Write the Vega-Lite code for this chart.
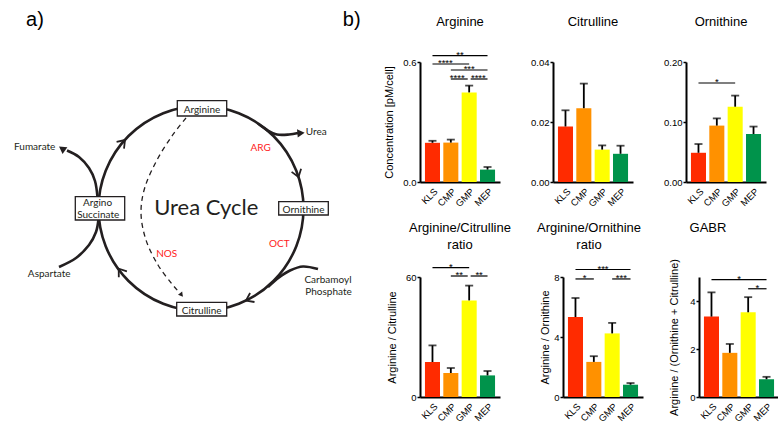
{
  "$schema": "https://vega.github.io/schema/vega-lite/v6.json",
  "padding": 0,
  "background": "white",
  "config": {
    "font": "Liberation Sans",
    "view": {"stroke": null},
    "axis": {"domainColor": "black", "domainWidth": 2, "tickColor": "black", "tickWidth": 1.5, "tickSize": 3, "labelColor": "black", "labelFont": "Liberation Sans", "labelFontSize": 9.5, "titleFont": "Liberation Sans", "titleFontSize": 11, "titleFontWeight": "normal", "titleColor": "black", "grid": false, "labelPadding": 1, "titlePadding": 8},
    "axisX": {"ticks": false, "labelAngle": -45, "labelPadding": 4},
    "title": {"font": "Liberation Sans", "fontSize": 13, "fontWeight": "normal", "color": "black"}
  },
  "datasets": {
    "ring": [{"x": 201, "y": 208.5}],
    "dspacer": [{"x": 10, "y": 0.5}],
    "boxes": [
      {"x": 177.3, "x2": 226.7, "y": 100.7, "y2": 116},
      {"x": 278.7, "x2": 328.3, "y": 201.7, "y2": 215},
      {"x": 176.7, "x2": 226.7, "y": 302.3, "y2": 316},
      {"x": 75.3, "x2": 124.7, "y": 196.7, "y2": 220}
    ],
    "paths": [
      {"kind": "curve", "p": "urea", "i": 0, "x": 258, "y": 123.5},
      {"kind": "curve", "p": "urea", "i": 1, "x": 267, "y": 130},
      {"kind": "curve", "p": "urea", "i": 2, "x": 277, "y": 134.5},
      {"kind": "curve", "p": "urea", "i": 3, "x": 289, "y": 134.5},
      {"kind": "curve", "p": "urea", "i": 4, "x": 298, "y": 133},
      {"kind": "curve", "p": "fum", "i": 0, "x": 97.5, "y": 197},
      {"kind": "curve", "p": "fum", "i": 1, "x": 95, "y": 181},
      {"kind": "curve", "p": "fum", "i": 2, "x": 89, "y": 168},
      {"kind": "curve", "p": "fum", "i": 3, "x": 79, "y": 157},
      {"kind": "curve", "p": "fum", "i": 4, "x": 67, "y": 150.5},
      {"kind": "curve", "p": "asp", "i": 0, "x": 59, "y": 267},
      {"kind": "curve", "p": "asp", "i": 1, "x": 76, "y": 258},
      {"kind": "curve", "p": "asp", "i": 2, "x": 89, "y": 245},
      {"kind": "curve", "p": "asp", "i": 3, "x": 96, "y": 232},
      {"kind": "curve", "p": "asp", "i": 4, "x": 98.5, "y": 219},
      {"kind": "curve", "p": "carb", "i": 0, "x": 318, "y": 269},
      {"kind": "curve", "p": "carb", "i": 1, "x": 303, "y": 266.5},
      {"kind": "curve", "p": "carb", "i": 2, "x": 290, "y": 270.5},
      {"kind": "curve", "p": "carb", "i": 3, "x": 279, "y": 277.5},
      {"kind": "curve", "p": "carb", "i": 4, "x": 268, "y": 287},
      {"kind": "dash", "p": "nos", "i": 0, "x": 186, "y": 118},
      {"kind": "dash", "p": "nos", "i": 1, "x": 172, "y": 136},
      {"kind": "dash", "p": "nos", "i": 2, "x": 157, "y": 160},
      {"kind": "dash", "p": "nos", "i": 3, "x": 145, "y": 187},
      {"kind": "dash", "p": "nos", "i": 4, "x": 141, "y": 213},
      {"kind": "dash", "p": "nos", "i": 5, "x": 146, "y": 240},
      {"kind": "dash", "p": "nos", "i": 6, "x": 158, "y": 265},
      {"kind": "dash", "p": "nos", "i": 7, "x": 172, "y": 284},
      {"kind": "dash", "p": "nos", "i": 8, "x": 180, "y": 293},
      {"kind": "chev", "p": "c1", "i": 0, "x": 124.0, "y": 148.6},
      {"kind": "chev", "p": "c1", "i": 1, "x": 125.0, "y": 140.0},
      {"kind": "chev", "p": "c1", "i": 2, "x": 116.6, "y": 141.9},
      {"kind": "chev", "p": "c2", "i": 0, "x": 301.1, "y": 168.8},
      {"kind": "chev", "p": "c2", "i": 1, "x": 298.5, "y": 177.0},
      {"kind": "chev", "p": "c2", "i": 2, "x": 291.6, "y": 171.9},
      {"kind": "chev", "p": "c3", "i": 0, "x": 254.5, "y": 302.0},
      {"kind": "chev", "p": "c3", "i": 1, "x": 246.0, "y": 300.6},
      {"kind": "chev", "p": "c3", "i": 2, "x": 250.1, "y": 293.0},
      {"kind": "chev", "p": "c4", "i": 0, "x": 126.9, "y": 271.4},
      {"kind": "chev", "p": "c4", "i": 1, "x": 118.7, "y": 268.7},
      {"kind": "chev", "p": "c4", "i": 2, "x": 118.8, "y": 277.3}
    ],
    "heads": [
      {"p": "urea", "x": 301, "y": 133},
      {"p": "fum", "x": 62, "y": 148.5},
      {"p": "nos", "x": 181.5, "y": 295}
    ],
    "dtext": [
      {"t": "Arginine", "x": 202, "y": 112.8, "k": "n"},
      {"t": "Ornithine", "x": 303.5, "y": 212.5, "k": "n"},
      {"t": "Citrulline", "x": 201.7, "y": 313.5, "k": "n"},
      {"t": "Argino", "x": 97.5, "y": 205.5, "k": "n"},
      {"t": "Succinate", "x": 98.2, "y": 218, "k": "n"},
      {"t": "Urea", "x": 316.3, "y": 135, "k": "n"},
      {"t": "Fumarate", "x": 34.7, "y": 150, "k": "n"},
      {"t": "Aspartate", "x": 49.2, "y": 277.3, "k": "n"},
      {"t": "Carbamoyl", "x": 328, "y": 282.5, "k": "n"},
      {"t": "Phosphate", "x": 328.5, "y": 294.5, "k": "n"},
      {"t": "ARG", "x": 260.7, "y": 151.3, "k": "r"},
      {"t": "OCT", "x": 279.3, "y": 246.5, "k": "r"},
      {"t": "NOS", "x": 166.7, "y": 256.5, "k": "r"},
      {"t": "Urea Cycle", "x": 206.3, "y": 214.7, "k": "big"},
      {"t": "a)", "x": 35, "y": 25.5, "k": "lab"},
      {"t": "b)", "x": 351.7, "y": 25.5, "k": "lab"}
    ],
    "arg": [
      {"g": "KLS", "v": 0.196, "hi": 0.206},
      {"g": "CMP", "v": 0.197, "hi": 0.212},
      {"g": "GMP", "v": 0.448, "hi": 0.482},
      {"g": "MEP", "v": 0.062, "hi": 0.075}
    ],
    "cit": [
      {"g": "KLS", "v": 0.0185, "hi": 0.0239},
      {"g": "CMP", "v": 0.0246, "hi": 0.0328},
      {"g": "GMP", "v": 0.0108, "hi": 0.0122},
      {"g": "MEP", "v": 0.0094, "hi": 0.0121}
    ],
    "orn": [
      {"g": "KLS", "v": 0.0487, "hi": 0.0633},
      {"g": "CMP", "v": 0.094, "hi": 0.106},
      {"g": "GMP", "v": 0.1255, "hi": 0.144},
      {"g": "MEP", "v": 0.080, "hi": 0.0924}
    ],
    "ac": [
      {"g": "KLS", "v": 17.5, "hi": 25.8},
      {"g": "CMP", "v": 12.0, "hi": 14.5},
      {"g": "GMP", "v": 48.3, "hi": 55.7},
      {"g": "MEP", "v": 10.8, "hi": 13.0}
    ],
    "ao": [
      {"g": "KLS", "v": 5.33, "hi": 6.6},
      {"g": "CMP", "v": 2.34, "hi": 2.72},
      {"g": "GMP", "v": 4.24, "hi": 4.94},
      {"g": "MEP", "v": 0.82, "hi": 0.93}
    ],
    "gabr": [
      {"g": "KLS", "v": 3.35, "hi": 4.36},
      {"g": "CMP", "v": 1.84, "hi": 2.21},
      {"g": "GMP", "v": 3.53, "hi": 4.16},
      {"g": "MEP", "v": 0.74, "hi": 0.84}
    ],
    "sig_arg": [
      {"a": 1, "b": 4, "m": 2.5, "y": 0.632, "s": "**"},
      {"a": 1, "b": 3, "m": 1.7, "y": 0.59, "s": "****"},
      {"a": 2, "b": 4, "m": 3, "y": 0.56, "s": "***"},
      {"a": 2, "b": 2.92, "m": 2.35, "y": 0.515, "s": "****"},
      {"a": 3.08, "b": 4, "m": 3.5, "y": 0.515, "s": "****"}
    ],
    "sig_orn": [
      {"a": 1, "b": 3, "m": 2, "y": 0.165, "s": "*"}
    ],
    "sig_ac": [
      {"a": 1, "b": 3, "m": 2, "y": 64.7, "s": "*"},
      {"a": 2, "b": 2.92, "m": 2.46, "y": 60.5, "s": "**"},
      {"a": 3.08, "b": 4, "m": 3.54, "y": 60.5, "s": "**"}
    ],
    "sig_ao": [
      {"a": 1, "b": 4, "m": 2.5, "y": 8.5, "s": "***"},
      {"a": 1, "b": 2, "m": 1.5, "y": 7.87, "s": "*"},
      {"a": 3, "b": 4, "m": 3.5, "y": 7.87, "s": "***"}
    ],
    "sig_gabr": [
      {"a": 1, "b": 4, "m": 2.5, "y": 4.89, "s": "*"},
      {"a": 3, "b": 4, "m": 3.5, "y": 4.51, "s": "*"}
    ]
  },
  "hconcat": [
    {
      "width": 365,
      "height": 369,
      "encoding": {
        "x": {"field": "x", "type": "quantitative", "scale": {"domain": [0, 365], "nice": false, "zero": false}, "axis": null},
        "y": {"field": "y", "type": "quantitative", "scale": {"domain": [62, 431], "nice": false, "zero": false, "reverse": true}, "axis": null}
      },
      "layer": [
        {"data": {"name": "dspacer"}, "mark": {"type": "point", "filled": true, "size": 1, "opacity": 0}},
        {"data": {"name": "ring"}, "mark": {"type": "point", "shape": "circle", "size": 42025, "filled": false, "stroke": "#231f20", "strokeWidth": 2.6, "opacity": 1}},
        {"data": {"name": "paths"}, "transform": [{"filter": "datum.kind == 'curve'"}], "mark": {"type": "line", "interpolate": "cardinal", "color": "#231f20", "strokeWidth": 2.6}, "encoding": {"detail": {"field": "p"}, "order": {"field": "i"}}},
        {"data": {"name": "paths"}, "transform": [{"filter": "datum.kind == 'dash'"}], "mark": {"type": "line", "interpolate": "cardinal", "color": "#231f20", "strokeWidth": 1.3, "strokeDash": [5, 4]}, "encoding": {"detail": {"field": "p"}, "order": {"field": "i"}}},
        {"data": {"name": "paths"}, "transform": [{"filter": "datum.kind == 'chev'"}], "mark": {"type": "line", "color": "#231f20", "strokeWidth": 1.8}, "encoding": {"detail": {"field": "p"}, "order": {"field": "i"}}},
        {"data": {"name": "heads"}, "transform": [{"filter": "datum.p == 'urea'"}], "mark": {"type": "point", "shape": "triangle-right", "filled": true, "color": "#231f20", "size": 70, "angle": -5, "opacity": 1}},
        {"data": {"name": "heads"}, "transform": [{"filter": "datum.p == 'fum'"}], "mark": {"type": "point", "shape": "triangle-right", "filled": true, "color": "#231f20", "size": 70, "angle": 215, "opacity": 1}},
        {"data": {"name": "heads"}, "transform": [{"filter": "datum.p == 'nos'"}], "mark": {"type": "point", "shape": "triangle-right", "filled": true, "color": "#231f20", "size": 28, "angle": 52, "opacity": 1}},
        {"data": {"name": "boxes"}, "mark": {"type": "rect", "fill": "white", "stroke": "#231f20", "strokeWidth": 1.3}, "encoding": {"x2": {"field": "x2"}, "y2": {"field": "y2"}}},
        {"data": {"name": "dtext"}, "transform": [{"filter": "datum.k == 'n'"}], "mark": {"type": "text", "font": "Lato", "fontSize": 10, "color": "#231f20", "align": "center", "baseline": "alphabetic"}, "encoding": {"text": {"field": "t"}}},
        {"data": {"name": "dtext"}, "transform": [{"filter": "datum.k == 'r'"}], "mark": {"type": "text", "font": "Lato", "fontSize": 10, "color": "#ff1a1a", "align": "center", "baseline": "alphabetic"}, "encoding": {"text": {"field": "t"}}},
        {"data": {"name": "dtext"}, "transform": [{"filter": "datum.k == 'big'"}], "mark": {"type": "text", "font": "Lato", "fontSize": 22, "color": "#231f20", "align": "center", "baseline": "alphabetic"}, "encoding": {"text": {"field": "t"}}},
        {"data": {"name": "dtext"}, "transform": [{"filter": "datum.k == 'lab'"}], "mark": {"type": "text", "font": "Liberation Sans", "fontSize": 20, "color": "black", "align": "center", "baseline": "alphabetic"}, "encoding": {"text": {"field": "t"}}}
      ]
    },
    {
      "spacing": 13,
      "vconcat": [
        {
          "spacing": 30,
          "hconcat": [
            {
              "width": 80, "height": 120,
              "title": {"text": "Arginine", "offset": 21},
              "layer": [
                {"data": {"name": "arg"}, "layer": [
                  {"mark": {"type": "bar"}, "encoding": {
                    "x": {"field": "g", "type": "nominal", "title": null, "scale": {"domain": ["KLS", "CMP", "GMP", "MEP"], "paddingInner": 0.18, "paddingOuter": 0.27}},
                    "y": {"field": "v", "type": "quantitative", "title": "Concentration [pM/cell]", "scale": {"domain": [0, 0.6], "nice": false}, "axis": {"values": [0, 0.2, 0.4, 0.6], "format": ".1f"}},
                    "color": {"field": "g", "type": "nominal", "scale": {"domain": ["KLS", "CMP", "GMP", "MEP"], "range": ["#ff2b00", "#ff9100", "#ffff00", "#00934b"]}, "legend": null}}},
                  {"mark": {"type": "rule", "color": "black", "strokeWidth": 1.8}, "encoding": {"x": {"field": "g", "type": "nominal", "title": null}, "y": {"field": "v", "type": "quantitative", "title": "Concentration [pM/cell]", "scale": {"domain": [0, 0.6], "nice": false}}, "y2": {"field": "hi"}}},
                  {"mark": {"type": "tick", "color": "black", "thickness": 1.8, "size": 8}, "encoding": {"x": {"field": "g", "type": "nominal", "title": null}, "y": {"field": "hi", "type": "quantitative", "title": "Concentration [pM/cell]", "scale": {"domain": [0, 0.6], "nice": false}}}}
                ]},
                {"data": {"name": "sig_arg"}, "layer": [
                  {"mark": {"type": "rule", "color": "black", "strokeWidth": 1.2}, "encoding": {"x": {"field": "a", "type": "quantitative", "scale": {"domain": [0.32, 4.68], "nice": false, "zero": false}, "axis": null}, "x2": {"field": "b"}, "y": {"field": "y", "type": "quantitative", "title": "Concentration [pM/cell]", "scale": {"domain": [0, 0.6], "nice": false}}}},
                  {"mark": {"type": "text", "dy": 2.3, "baseline": "alphabetic", "fontSize": 9.5, "color": "black"}, "encoding": {"x": {"field": "m", "type": "quantitative", "scale": {"domain": [0.32, 4.68], "nice": false, "zero": false}, "axis": null}, "y": {"field": "y", "type": "quantitative", "title": "Concentration [pM/cell]", "scale": {"domain": [0, 0.6], "nice": false}}, "text": {"field": "s"}}}
                ]}
              ],
              "resolve": {"scale": {"x": "independent"}}
            },
            {
              "width": 80, "height": 120,
              "title": {"text": "Citrulline", "offset": 28},
              "data": {"name": "cit"},
              "layer": [
                {"mark": {"type": "bar"}, "encoding": {
                  "x": {"field": "g", "type": "nominal", "title": null, "scale": {"domain": ["KLS", "CMP", "GMP", "MEP"], "paddingInner": 0.18, "paddingOuter": 0.27}},
                  "y": {"field": "v", "type": "quantitative", "title": null, "scale": {"domain": [0, 0.04], "nice": false}, "axis": {"values": [0, 0.01, 0.02, 0.03, 0.04], "format": ".2f"}},
                  "color": {"field": "g", "type": "nominal", "scale": {"domain": ["KLS", "CMP", "GMP", "MEP"], "range": ["#ff2b00", "#ff9100", "#ffff00", "#00934b"]}, "legend": null}}},
                {"mark": {"type": "rule", "color": "black", "strokeWidth": 1.8}, "encoding": {"x": {"field": "g", "type": "nominal", "title": null}, "y": {"field": "v", "type": "quantitative", "title": null, "scale": {"domain": [0, 0.04], "nice": false}}, "y2": {"field": "hi"}}},
                {"mark": {"type": "tick", "color": "black", "thickness": 1.8, "size": 8}, "encoding": {"x": {"field": "g", "type": "nominal", "title": null}, "y": {"field": "hi", "type": "quantitative", "title": null, "scale": {"domain": [0, 0.04], "nice": false}}}}
              ]
            },
            {
              "width": 80, "height": 120,
              "title": {"text": "Ornithine", "offset": 28, "dx": -5},
              "layer": [
                {"data": {"name": "orn"}, "layer": [
                  {"mark": {"type": "bar"}, "encoding": {
                    "x": {"field": "g", "type": "nominal", "title": null, "scale": {"domain": ["KLS", "CMP", "GMP", "MEP"], "paddingInner": 0.18, "paddingOuter": 0.27}},
                    "y": {"field": "v", "type": "quantitative", "title": null, "scale": {"domain": [0, 0.2], "nice": false}, "axis": {"values": [0, 0.05, 0.1, 0.15, 0.2], "format": ".2f"}},
                    "color": {"field": "g", "type": "nominal", "scale": {"domain": ["KLS", "CMP", "GMP", "MEP"], "range": ["#ff2b00", "#ff9100", "#ffff00", "#00934b"]}, "legend": null}}},
                  {"mark": {"type": "rule", "color": "black", "strokeWidth": 1.8}, "encoding": {"x": {"field": "g", "type": "nominal", "title": null}, "y": {"field": "v", "type": "quantitative", "title": null, "scale": {"domain": [0, 0.2], "nice": false}}, "y2": {"field": "hi"}}},
                  {"mark": {"type": "tick", "color": "black", "thickness": 1.8, "size": 8}, "encoding": {"x": {"field": "g", "type": "nominal", "title": null}, "y": {"field": "hi", "type": "quantitative", "title": null, "scale": {"domain": [0, 0.2], "nice": false}}}}
                ]},
                {"data": {"name": "sig_orn"}, "layer": [
                  {"mark": {"type": "rule", "color": "black", "strokeWidth": 1.2}, "encoding": {"x": {"field": "a", "type": "quantitative", "scale": {"domain": [0.32, 4.68], "nice": false, "zero": false}, "axis": null}, "x2": {"field": "b"}, "y": {"field": "y", "type": "quantitative", "title": null, "scale": {"domain": [0, 0.2], "nice": false}}}},
                  {"mark": {"type": "text", "dy": 2.3, "baseline": "alphabetic", "fontSize": 9.5, "color": "black"}, "encoding": {"x": {"field": "m", "type": "quantitative", "scale": {"domain": [0.32, 4.68], "nice": false, "zero": false}, "axis": null}, "y": {"field": "y", "type": "quantitative", "title": null, "scale": {"domain": [0, 0.2], "nice": false}}, "text": {"field": "s"}}}
                ]}
              ],
              "resolve": {"scale": {"x": "independent"}}
            }
          ]
        },
        {
          "spacing": 25,
          "hconcat": [
            {
              "width": 80, "height": 120,
              "title": {"text": ["Arginine/Citrulline", "ratio"], "offset": 10, "lineHeight": 16.5},
              "layer": [
                {"data": {"name": "ac"}, "layer": [
                  {"mark": {"type": "bar"}, "encoding": {
                    "x": {"field": "g", "type": "nominal", "title": null, "scale": {"domain": ["KLS", "CMP", "GMP", "MEP"], "paddingInner": 0.18, "paddingOuter": 0.27}},
                    "y": {"field": "v", "type": "quantitative", "title": "Arginine / Citrulline", "scale": {"domain": [0, 60], "nice": false}, "axis": {"values": [0, 20, 40, 60]}},
                    "color": {"field": "g", "type": "nominal", "scale": {"domain": ["KLS", "CMP", "GMP", "MEP"], "range": ["#ff2b00", "#ff9100", "#ffff00", "#00934b"]}, "legend": null}}},
                  {"mark": {"type": "rule", "color": "black", "strokeWidth": 1.8}, "encoding": {"x": {"field": "g", "type": "nominal", "title": null}, "y": {"field": "v", "type": "quantitative", "title": "Arginine / Citrulline", "scale": {"domain": [0, 60], "nice": false}}, "y2": {"field": "hi"}}},
                  {"mark": {"type": "tick", "color": "black", "thickness": 1.8, "size": 8}, "encoding": {"x": {"field": "g", "type": "nominal", "title": null}, "y": {"field": "hi", "type": "quantitative", "title": "Arginine / Citrulline", "scale": {"domain": [0, 60], "nice": false}}}}
                ]},
                {"data": {"name": "sig_ac"}, "layer": [
                  {"mark": {"type": "rule", "color": "black", "strokeWidth": 1.2}, "encoding": {"x": {"field": "a", "type": "quantitative", "scale": {"domain": [0.32, 4.68], "nice": false, "zero": false}, "axis": null}, "x2": {"field": "b"}, "y": {"field": "y", "type": "quantitative", "title": "Arginine / Citrulline", "scale": {"domain": [0, 60], "nice": false}}}},
                  {"mark": {"type": "text", "dy": 2.3, "baseline": "alphabetic", "fontSize": 9.5, "color": "black"}, "encoding": {"x": {"field": "m", "type": "quantitative", "scale": {"domain": [0.32, 4.68], "nice": false, "zero": false}, "axis": null}, "y": {"field": "y", "type": "quantitative", "title": "Arginine / Citrulline", "scale": {"domain": [0, 60], "nice": false}}, "text": {"field": "s"}}}
                ]}
              ],
              "resolve": {"scale": {"x": "independent"}}
            },
            {
              "width": 80, "height": 120,
              "title": {"text": ["Arginine/Ornithine", "ratio"], "offset": 12, "lineHeight": 16.5, "dx": -14},
              "layer": [
                {"data": {"name": "ao"}, "layer": [
                  {"mark": {"type": "bar"}, "encoding": {
                    "x": {"field": "g", "type": "nominal", "title": null, "scale": {"domain": ["KLS", "CMP", "GMP", "MEP"], "paddingInner": 0.18, "paddingOuter": 0.27}},
                    "y": {"field": "v", "type": "quantitative", "title": "Arginine / Ornithine", "scale": {"domain": [0, 8], "nice": false}, "axis": {"values": [0, 2, 4, 6, 8], "titlePadding": 3}},
                    "color": {"field": "g", "type": "nominal", "scale": {"domain": ["KLS", "CMP", "GMP", "MEP"], "range": ["#ff2b00", "#ff9100", "#ffff00", "#00934b"]}, "legend": null}}},
                  {"mark": {"type": "rule", "color": "black", "strokeWidth": 1.8}, "encoding": {"x": {"field": "g", "type": "nominal", "title": null}, "y": {"field": "v", "type": "quantitative", "title": "Arginine / Ornithine", "scale": {"domain": [0, 8], "nice": false}}, "y2": {"field": "hi"}}},
                  {"mark": {"type": "tick", "color": "black", "thickness": 1.8, "size": 8}, "encoding": {"x": {"field": "g", "type": "nominal", "title": null}, "y": {"field": "hi", "type": "quantitative", "title": "Arginine / Ornithine", "scale": {"domain": [0, 8], "nice": false}}}}
                ]},
                {"data": {"name": "sig_ao"}, "layer": [
                  {"mark": {"type": "rule", "color": "black", "strokeWidth": 1.2}, "encoding": {"x": {"field": "a", "type": "quantitative", "scale": {"domain": [0.32, 4.68], "nice": false, "zero": false}, "axis": null}, "x2": {"field": "b"}, "y": {"field": "y", "type": "quantitative", "title": "Arginine / Ornithine", "scale": {"domain": [0, 8], "nice": false}}}},
                  {"mark": {"type": "text", "dy": 2.3, "baseline": "alphabetic", "fontSize": 9.5, "color": "black"}, "encoding": {"x": {"field": "m", "type": "quantitative", "scale": {"domain": [0.32, 4.68], "nice": false, "zero": false}, "axis": null}, "y": {"field": "y", "type": "quantitative", "title": "Arginine / Ornithine", "scale": {"domain": [0, 8], "nice": false}}, "text": {"field": "s"}}}
                ]}
              ],
              "resolve": {"scale": {"x": "independent"}}
            },
            {
              "width": 80, "height": 120,
              "title": {"text": ["GABR", " "], "offset": 7, "lineHeight": 16.5, "dx": -31},
              "layer": [
                {"data": {"name": "gabr"}, "layer": [
                  {"mark": {"type": "bar"}, "encoding": {
                    "x": {"field": "g", "type": "nominal", "title": null, "scale": {"domain": ["KLS", "CMP", "GMP", "MEP"], "paddingInner": 0.18, "paddingOuter": 0.27}},
                    "y": {"field": "v", "type": "quantitative", "title": "Arginine / (Ornithine + Citrulline)", "scale": {"domain": [0, 5], "nice": false}, "axis": {"values": [0, 1, 2, 3, 4, 5], "titlePadding": 10}},
                    "color": {"field": "g", "type": "nominal", "scale": {"domain": ["KLS", "CMP", "GMP", "MEP"], "range": ["#ff2b00", "#ff9100", "#ffff00", "#00934b"]}, "legend": null}}},
                  {"mark": {"type": "rule", "color": "black", "strokeWidth": 1.8}, "encoding": {"x": {"field": "g", "type": "nominal", "title": null}, "y": {"field": "v", "type": "quantitative", "title": "Arginine / (Ornithine + Citrulline)", "scale": {"domain": [0, 5], "nice": false}}, "y2": {"field": "hi"}}},
                  {"mark": {"type": "tick", "color": "black", "thickness": 1.8, "size": 8}, "encoding": {"x": {"field": "g", "type": "nominal", "title": null}, "y": {"field": "hi", "type": "quantitative", "title": "Arginine / (Ornithine + Citrulline)", "scale": {"domain": [0, 5], "nice": false}}}}
                ]},
                {"data": {"name": "sig_gabr"}, "layer": [
                  {"mark": {"type": "rule", "color": "black", "strokeWidth": 1.2}, "encoding": {"x": {"field": "a", "type": "quantitative", "scale": {"domain": [0.32, 4.68], "nice": false, "zero": false}, "axis": null}, "x2": {"field": "b"}, "y": {"field": "y", "type": "quantitative", "title": "Arginine / (Ornithine + Citrulline)", "scale": {"domain": [0, 5], "nice": false}}}},
                  {"mark": {"type": "text", "dy": 2.3, "baseline": "alphabetic", "fontSize": 9.5, "color": "black"}, "encoding": {"x": {"field": "m", "type": "quantitative", "scale": {"domain": [0.32, 4.68], "nice": false, "zero": false}, "axis": null}, "y": {"field": "y", "type": "quantitative", "title": "Arginine / (Ornithine + Citrulline)", "scale": {"domain": [0, 5], "nice": false}}, "text": {"field": "s"}}}
                ]}
              ],
              "resolve": {"scale": {"x": "independent"}}
            }
          ]
        }
      ]
    }
  ],
  "spacing": 18
}
